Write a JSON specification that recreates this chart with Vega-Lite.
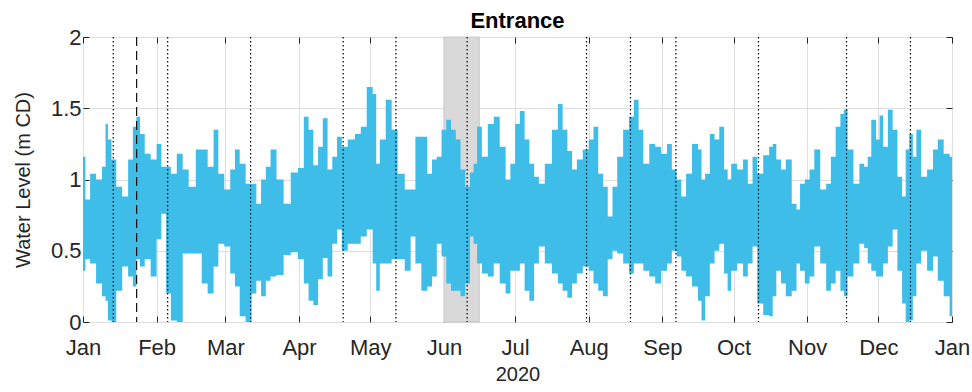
{
"$schema":"https://vega.github.io/schema/vega-lite/v6.json",
"width":869,"height":285,"autosize":"none",
"padding":{"left":83,"top":37,"right":20,"bottom":70},
"background":"white",
"config":{"font":"Liberation Sans","view":{"stroke":"#262626","strokeWidth":1},
"axis":{"labelColor":"#262626","labelFontSize":22,"titleFontSize":20,"titleColor":"#262626","titleFontWeight":"normal","tickColor":"#262626","gridColor":"#dedede","gridWidth":1,"domain":false,"labelFont":"Liberation Sans","titleFont":"Liberation Sans","labelFlush":false}},
"title":{"text":"Entrance","fontSize":22,"fontWeight":"bold","font":"Liberation Sans","color":"#000000","offset":8,"dy":15},
"datasets":{
"wl":[
{"d":"2020-01-01","h":1.16,"l":0.36},{"d":"2020-01-03","h":0.86,"l":0.44},{"d":"2020-01-05","h":1.04,"l":0.41},{"d":"2020-01-08","h":1.0,"l":0.27},{"d":"2020-01-10","h":1.09,"l":0.18},{"d":"2020-01-11","h":1.39,"l":0.15},{"d":"2020-01-12","h":1.28,"l":0.01},{"d":"2020-01-14","h":1.14,"l":0.0},{"d":"2020-01-16","h":0.95,"l":0.22},{"d":"2020-01-19","h":0.88,"l":0.39},{"d":"2020-01-21","h":1.14,"l":0.32},{"d":"2020-01-23","h":1.37,"l":0.25},{"d":"2020-01-24","h":1.44,"l":0.44},{"d":"2020-01-26","h":1.32,"l":0.39},{"d":"2020-01-28","h":1.18,"l":0.44},{"d":"2020-01-31","h":1.14,"l":0.32},
{"d":"2020-02-02","h":1.25,"l":0.58},{"d":"2020-02-04","h":1.09,"l":0.76},{"d":"2020-02-06","h":1.09,"l":0.2},{"d":"2020-02-08","h":1.04,"l":0.01},{"d":"2020-02-11","h":1.18,"l":0.0},{"d":"2020-02-13","h":1.07,"l":0.48},{"d":"2020-02-16","h":0.95,"l":0.48},{"d":"2020-02-19","h":1.21,"l":0.48},{"d":"2020-02-21","h":1.21,"l":0.27},{"d":"2020-02-24","h":1.09,"l":0.2},{"d":"2020-02-26","h":1.35,"l":0.39},{"d":"2020-02-28","h":1.04,"l":0.55},
{"d":"2020-03-02","h":0.93,"l":0.53},{"d":"2020-03-04","h":1.07,"l":0.34},{"d":"2020-03-06","h":1.21,"l":0.25},{"d":"2020-03-08","h":1.11,"l":0.04},{"d":"2020-03-11","h":0.97,"l":0.0},{"d":"2020-03-13","h":0.97,"l":0.2},{"d":"2020-03-15","h":0.83,"l":0.29},{"d":"2020-03-17","h":1.0,"l":0.18},{"d":"2020-03-19","h":1.09,"l":0.29},{"d":"2020-03-21","h":1.21,"l":0.32},{"d":"2020-03-24","h":1.0,"l":0.33},{"d":"2020-03-27","h":0.83,"l":0.47},{"d":"2020-03-30","h":1.05,"l":0.49},
{"d":"2020-04-02","h":1.08,"l":0.44},{"d":"2020-04-04","h":1.44,"l":0.27},{"d":"2020-04-06","h":1.35,"l":0.15},{"d":"2020-04-08","h":1.1,"l":0.12},{"d":"2020-04-10","h":1.23,"l":0.3},{"d":"2020-04-12","h":1.43,"l":0.45},{"d":"2020-04-14","h":1.07,"l":0.32},{"d":"2020-04-16","h":1.16,"l":0.55},{"d":"2020-04-18","h":1.3,"l":0.65},{"d":"2020-04-20","h":1.23,"l":0.5},{"d":"2020-04-23","h":1.28,"l":0.55},{"d":"2020-04-26","h":1.32,"l":0.55},{"d":"2020-04-28","h":1.37,"l":0.6},
{"d":"2020-05-01","h":1.65,"l":0.65},{"d":"2020-05-03","h":1.6,"l":0.41},{"d":"2020-05-04","h":1.11,"l":0.22},{"d":"2020-05-06","h":1.28,"l":0.41},{"d":"2020-05-09","h":1.56,"l":0.41},{"d":"2020-05-11","h":1.35,"l":0.44},{"d":"2020-05-14","h":1.04,"l":0.44},{"d":"2020-05-17","h":0.93,"l":0.36},{"d":"2020-05-19","h":0.93,"l":0.6},{"d":"2020-05-21","h":1.3,"l":0.41},{"d":"2020-05-24","h":1.3,"l":0.22},{"d":"2020-05-26","h":1.04,"l":0.25},{"d":"2020-05-28","h":1.14,"l":0.32},{"d":"2020-05-30","h":1.16,"l":0.55},
{"d":"2020-06-01","h":1.35,"l":0.46},{"d":"2020-06-03","h":1.42,"l":0.27},{"d":"2020-06-05","h":1.35,"l":0.22},{"d":"2020-06-07","h":1.28,"l":0.22},{"d":"2020-06-09","h":1.07,"l":0.18},{"d":"2020-06-11","h":0.95,"l":0.27},{"d":"2020-06-13","h":1.05,"l":0.6},{"d":"2020-06-14","h":1.11,"l":0.55},{"d":"2020-06-16","h":1.37,"l":0.41},{"d":"2020-06-18","h":1.16,"l":0.34},{"d":"2020-06-21","h":1.39,"l":0.32},{"d":"2020-06-23","h":1.44,"l":0.41},{"d":"2020-06-26","h":1.23,"l":0.27},{"d":"2020-06-28","h":1.0,"l":0.2},{"d":"2020-06-30","h":1.11,"l":0.36},
{"d":"2020-07-02","h":1.39,"l":0.36},{"d":"2020-07-04","h":1.48,"l":0.41},{"d":"2020-07-06","h":1.28,"l":0.22},{"d":"2020-07-08","h":1.11,"l":0.15},{"d":"2020-07-10","h":1.02,"l":0.41},{"d":"2020-07-12","h":0.97,"l":0.53},{"d":"2020-07-15","h":1.11,"l":0.41},{"d":"2020-07-18","h":1.35,"l":0.34},{"d":"2020-07-20","h":1.53,"l":0.27},{"d":"2020-07-22","h":1.35,"l":0.22},{"d":"2020-07-24","h":1.2,"l":0.17},{"d":"2020-07-26","h":1.07,"l":0.27},{"d":"2020-07-28","h":1.14,"l":0.34},{"d":"2020-07-31","h":1.21,"l":0.39},
{"d":"2020-08-02","h":1.28,"l":0.36},{"d":"2020-08-04","h":1.37,"l":0.27},{"d":"2020-08-06","h":1.04,"l":0.22},{"d":"2020-08-08","h":0.95,"l":0.18},{"d":"2020-08-10","h":0.74,"l":0.44},{"d":"2020-08-12","h":0.95,"l":0.5},{"d":"2020-08-14","h":1.16,"l":0.48},{"d":"2020-08-17","h":1.35,"l":0.41},{"d":"2020-08-19","h":1.44,"l":0.34},{"d":"2020-08-21","h":1.56,"l":0.41},{"d":"2020-08-23","h":1.35,"l":0.41},{"d":"2020-08-25","h":1.11,"l":0.36},{"d":"2020-08-28","h":1.25,"l":0.32},{"d":"2020-08-30","h":1.23,"l":0.27},
{"d":"2020-09-02","h":1.18,"l":0.36},{"d":"2020-09-04","h":1.25,"l":0.41},{"d":"2020-09-06","h":1.07,"l":0.5},{"d":"2020-09-08","h":1.0,"l":0.46},{"d":"2020-09-10","h":0.88,"l":0.36},{"d":"2020-09-12","h":1.04,"l":0.32},{"d":"2020-09-15","h":1.25,"l":0.25},{"d":"2020-09-17","h":1.21,"l":0.15},{"d":"2020-09-18","h":1.0,"l":0.01},{"d":"2020-09-20","h":1.04,"l":0.18},{"d":"2020-09-22","h":1.32,"l":0.41},{"d":"2020-09-24","h":1.28,"l":0.5},{"d":"2020-09-26","h":1.37,"l":0.55},{"d":"2020-09-28","h":1.07,"l":0.34},{"d":"2020-09-29","h":1.0,"l":0.22},
{"d":"2020-10-01","h":1.11,"l":0.36},{"d":"2020-10-04","h":1.07,"l":0.41},{"d":"2020-10-06","h":1.14,"l":0.32},{"d":"2020-10-08","h":0.97,"l":0.41},{"d":"2020-10-10","h":1.16,"l":0.53},{"d":"2020-10-12","h":1.04,"l":0.13},{"d":"2020-10-15","h":1.17,"l":0.05},{"d":"2020-10-17","h":1.23,"l":0.04},{"d":"2020-10-18","h":1.25,"l":0.18},{"d":"2020-10-20","h":1.14,"l":0.36},{"d":"2020-10-22","h":1.07,"l":0.27},{"d":"2020-10-24","h":1.14,"l":0.18},{"d":"2020-10-27","h":0.83,"l":0.22},{"d":"2020-10-28","h":0.79,"l":0.41},{"d":"2020-10-30","h":0.97,"l":0.36},
{"d":"2020-11-01","h":1.0,"l":0.27},{"d":"2020-11-03","h":1.07,"l":0.32},{"d":"2020-11-05","h":1.21,"l":0.53},{"d":"2020-11-08","h":0.93,"l":0.41},{"d":"2020-11-10","h":0.97,"l":0.22},{"d":"2020-11-12","h":1.16,"l":0.27},{"d":"2020-11-14","h":1.37,"l":0.36},{"d":"2020-11-16","h":1.46,"l":0.22},{"d":"2020-11-17","h":1.49,"l":0.18},{"d":"2020-11-19","h":1.21,"l":0.32},{"d":"2020-11-22","h":0.97,"l":0.41},{"d":"2020-11-24","h":1.11,"l":0.55},{"d":"2020-11-26","h":1.09,"l":0.52},{"d":"2020-11-27","h":1.16,"l":0.41},{"d":"2020-11-29","h":1.42,"l":0.36},
{"d":"2020-12-01","h":1.28,"l":0.32},{"d":"2020-12-02","h":1.45,"l":0.32},{"d":"2020-12-04","h":1.23,"l":0.41},{"d":"2020-12-06","h":1.49,"l":0.53},{"d":"2020-12-08","h":1.35,"l":0.65},{"d":"2020-12-10","h":1.02,"l":0.36},{"d":"2020-12-12","h":0.88,"l":0.13},{"d":"2020-12-13","h":1.21,"l":0.0},{"d":"2020-12-15","h":1.32,"l":0.01},{"d":"2020-12-16","h":1.16,"l":0.18},{"d":"2020-12-18","h":1.35,"l":0.41},{"d":"2020-12-20","h":1.02,"l":0.5},{"d":"2020-12-23","h":1.07,"l":0.36},{"d":"2020-12-25","h":1.21,"l":0.46},{"d":"2020-12-27","h":1.28,"l":0.29},{"d":"2020-12-30","h":1.18,"l":0.18},{"d":"2021-01-01","h":1.16,"l":0.04}
],
"dots":[{"t":"2020-01-13T18:00Z"},{"t":"2020-02-05T16:00Z"},{"t":"2020-03-11T14:00Z"},{"t":"2020-04-19T14:00Z"},{"t":"2020-05-11T19:00Z"},{"t":"2020-06-10T19:00Z"},{"t":"2020-07-31T02:00Z"},{"t":"2020-08-18T14:00Z"},{"t":"2020-09-06T17:00Z"},{"t":"2020-10-11T12:00Z"},{"t":"2020-11-17T14:00Z"},{"t":"2020-12-14T12:00Z"}],
"dash":[{"t":"2020-01-23T14:00Z"}],
"band":[{"s":"2020-06-01T00:00Z","e":"2020-06-15T22:00Z"}]
},
"layer":[
{"data":{"name":"band"},"mark":{"type":"rect","fill":"#d9d9d9","stroke":"#c2c2c2","strokeWidth":0.8},
"encoding":{"x":{"field":"s","type":"temporal","scale":{"type":"utc"},"axis":null},"x2":{"field":"e"},
"y":{"datum":0,"type":"quantitative","axis":{"orient":"right","labels":false,"grid":false,"title":null,"values":[0,0.5,1,1.5,2],"tickSize":-6}},"y2":{"datum":2}}},
{"data":{"name":"wl"},"mark":{"type":"area","color":"#3DBDE8","interpolate":"step"},
"encoding":{"x":{"field":"d","type":"temporal","scale":{"type":"utc","domain":[{"year":2020,"month":1,"date":1,"utc":true},{"year":2021,"month":1,"date":1,"utc":true}]},
"axis":{"title":"2020","format":"%b","tickCount":{"interval":"month","step":1},"grid":true,"tickSize":-6,"labelPadding":21,"titlePadding":6}},
"y":{"field":"h","type":"quantitative","scale":{"domain":[0,2]},"axis":{"title":"Water Level (m CD)","values":[0,0.5,1,1.5,2],"format":".1~f","grid":true,"tickSize":-6,"labelPadding":8,"titlePadding":17}},
"y2":{"field":"l"}}},
{"data":{"name":"dots"},"mark":{"type":"rule","color":"#000000","strokeWidth":1.2,"strokeDash":[1.5,2.5]},
"encoding":{"x":{"field":"t","type":"temporal","scale":{"type":"utc"},"axis":{"orient":"top","labels":false,"grid":false,"title":null,"tickCount":{"interval":"month","step":1},"tickSize":-6}}}},
{"data":{"name":"dash"},"mark":{"type":"rule","color":"#111111","strokeWidth":1.2,"strokeDash":[9,5]},
"encoding":{"x":{"field":"t","type":"temporal","scale":{"type":"utc"},"axis":null}}}
],
"resolve":{"axis":{"x":"independent","y":"independent"}}
}
